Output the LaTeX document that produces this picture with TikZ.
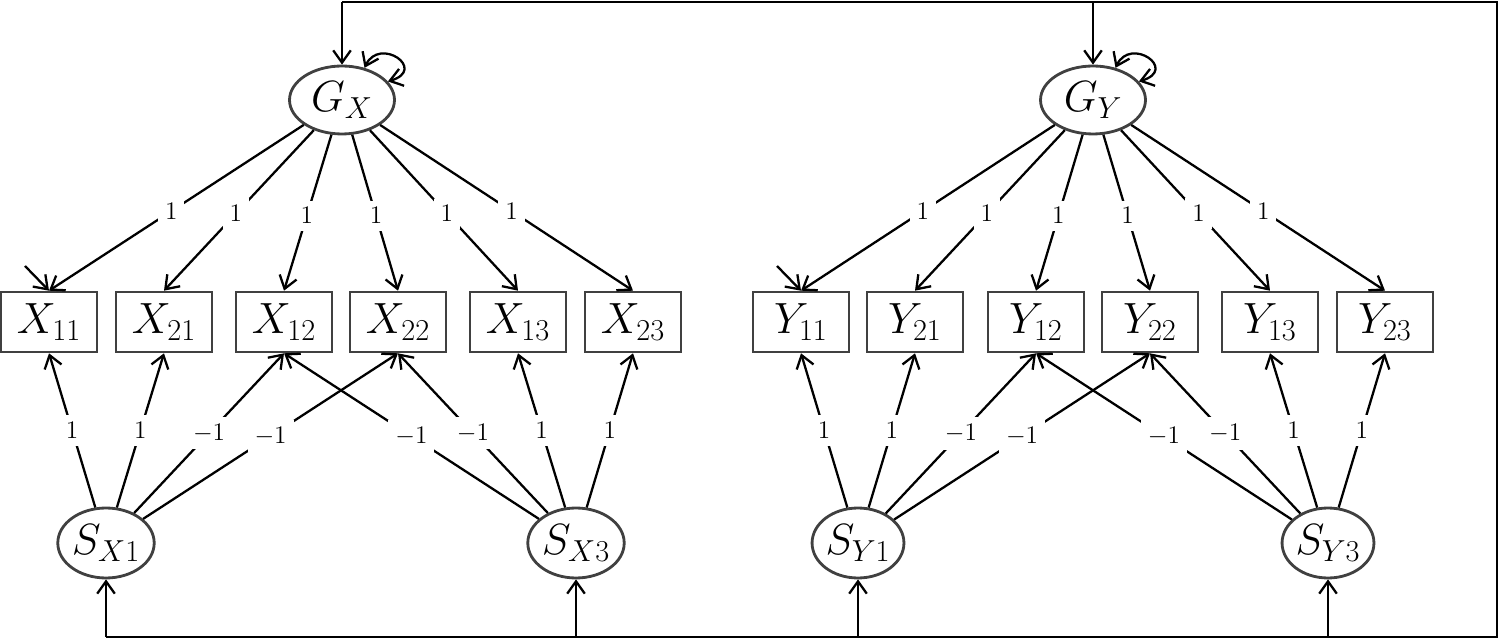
\documentclass[tikz,border=0pt]{standalone}
\usetikzlibrary{arrows.meta,shapes.geometric}
\begin{document}
\begin{tikzpicture}[x=0.02cm,y=-0.02cm,
  lat/.style={ellipse,draw=black!75,line width=1.6pt,minimum width=2.1cm,minimum height=1.36cm,inner sep=0pt,font=\fontsize{25}{28}\selectfont},
  slat/.style={ellipse,draw=black!75,line width=1.6pt,minimum width=1.72cm,minimum height=1.4cm,inner sep=0pt,font=\fontsize{25}{28}\selectfont},
  obs/.style={rectangle,draw=black!75,line width=1.5pt,minimum width=1.92cm,minimum height=1.2cm,inner sep=0pt,font=\fontsize{25}{28}\selectfont},
  arr/.style={line width=1.3pt,-{Straight Barb[length=7pt,width=10pt,line width=1.3pt]}},
  darr/.style={line width=1.3pt,{Straight Barb[length=7pt,width=10pt,line width=1.3pt]}-{Straight Barb[length=7pt,width=10pt,line width=1.3pt]}},
  lab/.style={fill=white,inner sep=4pt,font=\fontsize{15}{18}\selectfont},
  ln/.style={line width=1.3pt}]
\useasboundingbox (0,0) rectangle (1500,641);
\node[lat] (GX) at (342,100) {$G_X$};
\node[lat] (GY) at (1093,100) {$G_Y$};
\foreach \a/\b/\x in {1/1/49,2/1/164,1/2/284,2/2/398,1/3/518,2/3/633}{
  \node[obs] (X\a\b) at (\x,322) {$X_{\a\b}$};}
\foreach \a/\b/\x in {1/1/801,2/1/915,1/2/1036,2/2/1150,1/3/1270,2/3/1385}{
  \node[obs] (Y\a\b) at (\x,322) {$Y_{\a\b}$};}
\node[slat] (SX1) at (106,543) {$S_{X1}$};
\node[slat] (SX3) at (576,543) {$S_{X3}$};
\node[slat] (SY1) at (858,543) {$S_{Y1}$};
\node[slat] (SY3) at (1328,543) {$S_{Y3}$};
\foreach \v in {X,Y}{
  \foreach \n in {11,21,12,22,13,23}{
    \draw[arr] (G\v) -- node[lab,pos=0.52]{$1$} (\v\n.north);}
  \draw[darr] (G\v.55) .. controls +(15,-32) and +(40,-12) .. (G\v.22);
  \draw[arr] (S\v1) -- node[lab]{$1$} (\v11.south);
  \draw[arr] (S\v1) -- node[lab]{$1$} (\v21.south);
  \draw[arr] (S\v1) -- node[lab]{$-1$} (\v12.south);
  \draw[arr] (S\v1) -- node[lab]{$-1$} (\v22.south);
  \draw[arr] (S\v3) -- node[lab]{$-1$} (\v12.south);
  \draw[arr] (S\v3) -- node[lab]{$-1$} (\v22.south);
  \draw[arr] (S\v3) -- node[lab]{$1$} (\v13.south);
  \draw[arr] (S\v3) -- node[lab]{$1$} (\v23.south);
}
\coordinate (eX) at (25,266);
\coordinate (eY) at (777,266);
\draw[arr] (eX) -- (X11.north);
\draw[arr] (eY) -- (Y11.north);
\coordinate (tl) at (342,2);
\coordinate (tm) at (1093,2);
\coordinate (tr) at (1497,2);
\coordinate (br) at (1497,637);
\coordinate (b1) at (106,637);
\coordinate (b2) at (576,637);
\coordinate (b3) at (858,637);
\coordinate (b4) at (1328,637);
\draw[ln] (tl) -- (tr) -- (br) -- (b1);
\draw[arr] (tl) -- (GX);
\draw[arr] (tm) -- (GY);
\draw[arr] (b1) -- (SX1);
\draw[arr] (b2) -- (SX3);
\draw[arr] (b3) -- (SY1);
\draw[arr] (b4) -- (SY3);
\end{tikzpicture}
\end{document}
